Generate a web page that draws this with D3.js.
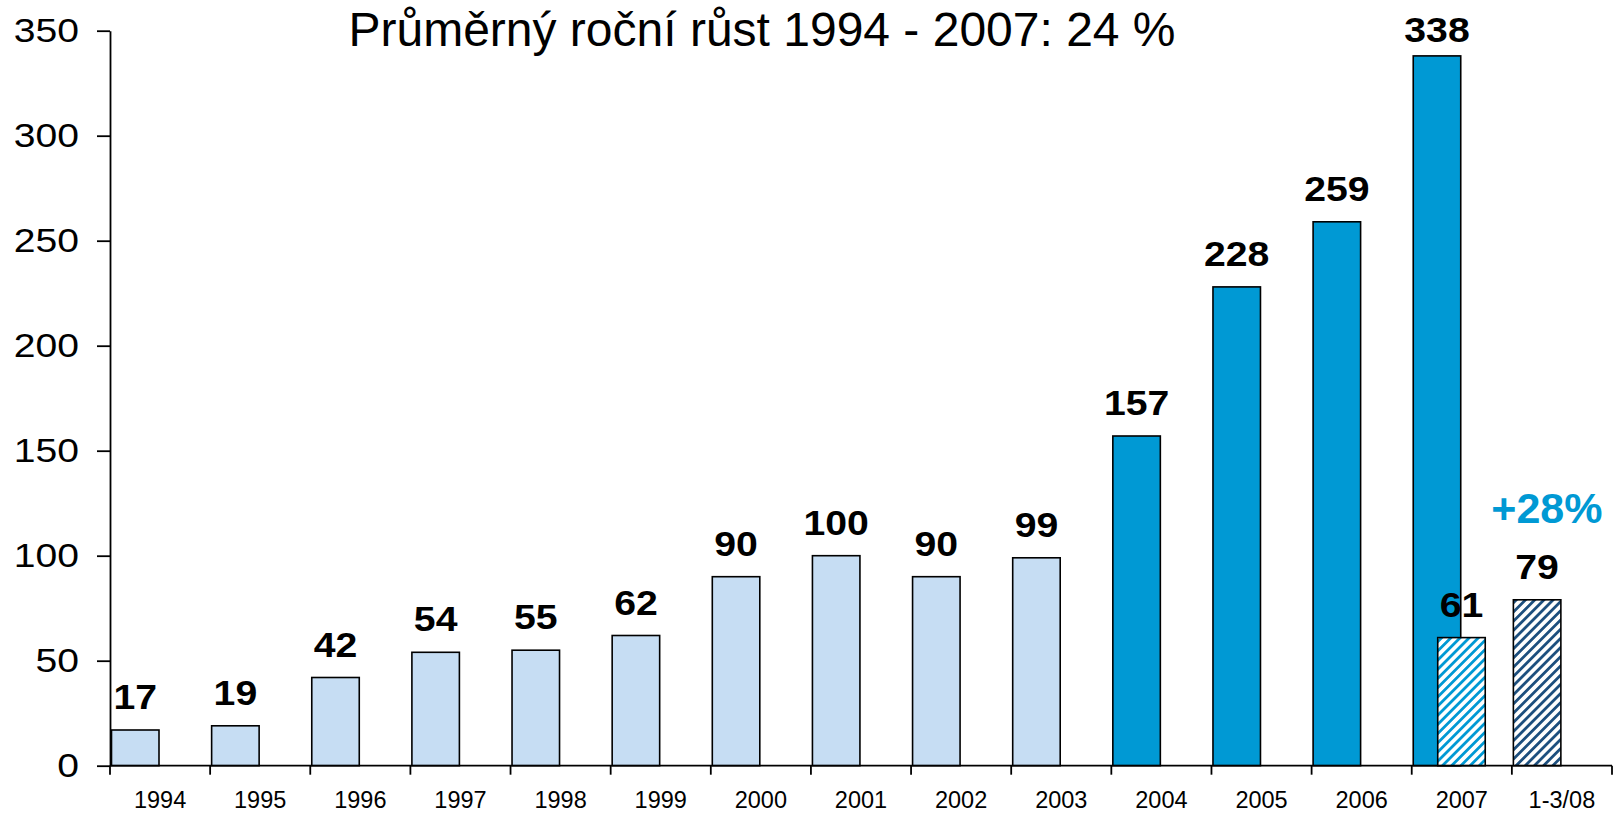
<!DOCTYPE html>
<html lang="cs">
<head>
<meta charset="UTF-8"/>
<title>Průměrný roční růst</title>
<script src="https://d3js.org/d3.v7.min.js"></script>
<style>
	body { margin: 0; background: #fff; }
	text { font-family: "Liberation Sans", Arial, Helvetica, sans-serif; }
	.bar { stroke: #000; stroke-width: 1.6; }
	.axis path, .axis line, .xtick { stroke: #000; stroke-width: 1.8; }
	.label { font-weight: bold; font-size: 35px; fill: #000; }
</style>
</head>
<body>
<div id="chart"></div>
<script>
var w = 1614;
var h = 813;

// data
var categories = ["1994","1995","1996","1997","1998","1999","2000","2001","2002","2003","2004","2005","2006","2007","1-3/08"];
var yearValues = [17, 19, 42, 54, 55, 62, 90, 100, 90, 99, 157, 228, 259, 338, null];
var quarterValues = [null, null, null, null, null, null, null, null, null, null, null, null, null, 61, 79];
var yTicks = [0, 50, 100, 150, 200, 250, 300, 350];
var title = "Průměrný roční růst 1994 - 2007: 24 %";
var growthNote = "+28%";

var lightBlue = "#c6ddf3";
var blue = "#0099d4";
var darkBlue = "#1d4f7e";

var svg = d3.select("#chart")
	.append("svg")
	.attr("width", w)
	.attr("height", h);

var xScale = d3.scaleBand()
	.domain(categories)
	.range([110, 1612])
	.padding(0);

var yScale = d3.scaleLinear()
	.domain([0, 350])
	.range([765.7, 30.7]);

var barW = 47.5;

// hatch patterns
var defs = svg.append("defs");
function hatch(id, color){
	var p = defs.append("pattern")
		.attr("id", id)
		.attr("patternUnits", "userSpaceOnUse")
		.attr("width", 6.5)
		.attr("height", 6.5)
		.attr("patternTransform", "rotate(45)");
	p.append("rect").attr("width", 6.5).attr("height", 6.5).attr("fill", "#fff");
	p.append("rect").attr("x", 0).attr("width", 2.8).attr("height", 6.5).attr("fill", color);
}
hatch("hatchLight", blue);
hatch("hatchDark", darkBlue);

var yearData = categories.map(function(c, i){ return {cat: c, value: yearValues[i], idx: i}; })
	.filter(function(d){ return d.value != null; });
var quarterData = categories.map(function(c, i){ return {cat: c, value: quarterValues[i], idx: i, shifted: yearValues[i] != null}; })
	.filter(function(d){ return d.value != null; });

// main bars
svg.selectAll(".yearBar")
	.data(yearData)
	.enter()
	.append("rect")
	.attr("class", "bar yearBar")
	.attr("x", function(d){ return xScale(d.cat) + 1.5; })
	.attr("y", function(d){ return yScale(d.value); })
	.attr("width", barW)
	.attr("height", function(d){ return yScale(0) - yScale(d.value); })
	.attr("fill", function(d){ return d.idx < 10 ? lightBlue : blue; });

// hatched bars (first quarter)
svg.selectAll(".quarterBar")
	.data(quarterData)
	.enter()
	.append("rect")
	.attr("class", "bar quarterBar")
	.attr("x", function(d){ return xScale(d.cat) + 1.5 + (d.shifted ? 24.5 : 0); })
	.attr("y", function(d){ return yScale(d.value); })
	.attr("width", barW)
	.attr("height", function(d){ return yScale(0) - yScale(d.value); })
	.attr("fill", function(d){ return d.shifted ? "url(#hatchLight)" : "url(#hatchDark)"; });

// y axis
var yAxis = d3.axisLeft(yScale)
	.tickValues(yTicks)
	.tickSize(13)
	.tickSizeOuter(0)
	.tickPadding(18);

var gy = svg.append("g")
	.attr("class", "axis")
	.attr("transform", "translate(110,0)")
	.call(yAxis);
gy.selectAll("text")
	.attr("x", 0)
	.attr("transform", "translate(-31,0) scale(1.15,1)")
	.style("font-size", "34px")
	.attr("fill", "#000");

// x axis
svg.append("line")
	.attr("class", "xtick")
	.attr("x1", 110).attr("x2", 1612)
	.attr("y1", yScale(0)).attr("y2", yScale(0));

var bounds = categories.map(function(c){ return xScale(c); }).concat([xScale.range()[1]]);
svg.selectAll(".xt")
	.data(bounds)
	.enter()
	.append("line")
	.attr("class", "xtick")
	.attr("x1", function(d){ return d; })
	.attr("x2", function(d){ return d; })
	.attr("y1", yScale(0))
	.attr("y2", yScale(0) + 9);

svg.selectAll(".xlabel")
	.data(categories)
	.enter()
	.append("text")
	.attr("class", "xlabel")
	.attr("x", function(d){ return xScale(d) + xScale.bandwidth() / 2; })
	.attr("y", 808)
	.attr("text-anchor", "middle")
	.style("font-size", "23.5px")
	.text(function(d){ return d; });

// value labels
function addLabels(data, cls, offset){
	svg.selectAll("." + cls)
		.data(data)
		.enter()
		.append("text")
		.attr("class", "label " + cls)
		.attr("text-anchor", "middle")
		.attr("transform", function(d){
			var x = xScale(d.cat) + 1.5 + offset(d) + barW / 2;
			var y = Math.max(yScale(d.value) - 21, 42);
			return "translate(" + x + "," + y + ") scale(1.12,1)";
		})
		.text(function(d){ return d.value; });
}
addLabels(yearData, "yLabel", function(){ return 0; });
addLabels(quarterData, "qLabel", function(d){ return d.shifted ? 24.5 : 0; });

// growth note
svg.append("text")
	.attr("x", xScale("1-3/08") + 35)
	.attr("y", yScale(79) - 77)
	.attr("text-anchor", "middle")
	.style("font-size", "43px")
	.style("font-weight", "bold")
	.attr("fill", blue)
	.text(growthNote);

// title
svg.append("text")
	.attr("x", 762)
	.attr("y", 46)
	.attr("text-anchor", "middle")
	.style("font-size", "48px")
	.attr("fill", "#000")
	.text(title);
</script>
</body>
</html>
